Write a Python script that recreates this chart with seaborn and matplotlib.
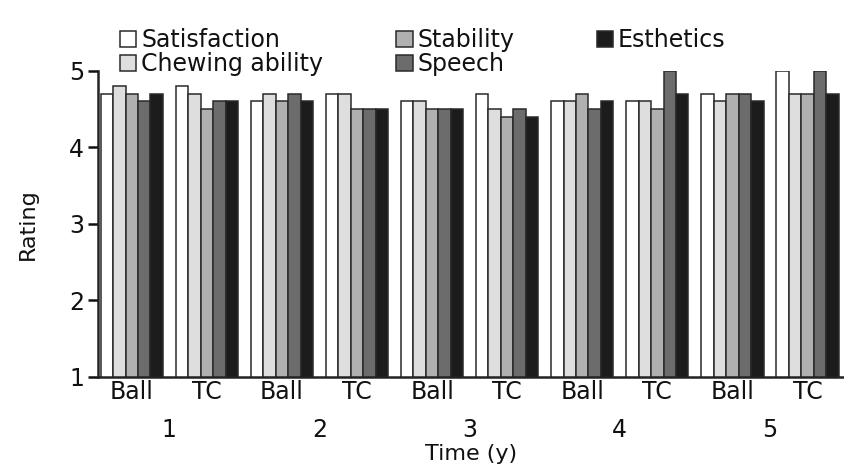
import matplotlib
matplotlib.use("Agg")
import matplotlib.pyplot as plt
import seaborn as sns
import pandas as pd
import matplotlib.transforms as mtransforms

# values
years = ["1", "2", "3", "4", "5"]
groups = ["Ball", "TC"]
measures = ["Satisfaction", "Chewing ability", "Stability", "Speech", "Esthetics"]

# order: Ball1, TC1, Ball2, TC2, ... Ball5, TC5
satisfaction = [4.7, 4.8, 4.6, 4.7, 4.6, 4.7, 4.6, 4.6, 4.7, 5.0]
chewing = [4.8, 4.7, 4.7, 4.7, 4.6, 4.5, 4.6, 4.6, 4.6, 4.7]
stability = [4.7, 4.5, 4.6, 4.5, 4.5, 4.4, 4.7, 4.5, 4.7, 4.7]
speech = [4.6, 4.6, 4.7, 4.5, 4.5, 4.5, 4.5, 5.0, 4.7, 5.0]
esthetics = [4.7, 4.6, 4.6, 4.5, 4.5, 4.4, 4.6, 4.7, 4.6, 4.7]

colors = ["#ffffff", "#dedede", "#b0b0b0", "#6c6c6c", "#1c1c1c"]

slots = [f"{g} {y}" for y in years for g in groups]
rows = []
for name, vals in zip(measures, [satisfaction, chewing, stability, speech, esthetics]):
    for s, v in zip(slots, vals):
        rows.append({"slot": s, "measure": name, "rating": v})
df = pd.DataFrame(rows)

sns.set_style("ticks")
plt.rcParams["font.family"] = ["DejaVu Sans"]
plt.rcParams["text.color"] = "#111111"
plt.rcParams["axes.labelcolor"] = "#111111"
plt.rcParams["xtick.color"] = "#111111"
plt.rcParams["ytick.color"] = "#111111"

fs = 17

fig = plt.figure(figsize=(8.45, 4.66), dpi=100)
ax = fig.add_axes([0.116, 0.191, 0.884, 0.657])

sns.barplot(data=df, x="slot", y="rating", hue="measure", order=slots,
            hue_order=measures, palette=colors, saturation=1, width=0.83,
            edgecolor="#2a2a2a", linewidth=1.1, errorbar=None, ax=ax)

ax.set_ylim(1, 5)
ax.set_yticks([1, 2, 3, 4, 5])
ax.set_xlim(-0.45, 9.5)
ax.set_xticks(range(len(slots)))
ax.set_xticklabels([s.split()[0] for s in slots])
ax.tick_params(axis="x", length=0, pad=2, labelsize=fs)
ax.tick_params(axis="y", length=7, width=1.8, labelsize=fs, pad=3)
for side in ["left", "bottom"]:
    ax.spines[side].set_linewidth(1.8)
    ax.spines[side].set_color("#222222")
sns.despine(ax=ax)

ax.set_ylabel("Rating", fontsize=fs - 1, labelpad=22)
ax.set_xlabel("Time (y)", fontsize=fs - 1, labelpad=29)

trans = mtransforms.blended_transform_factory(ax.transData, ax.transAxes)
for i, y in enumerate(years):
    ax.text(2 * i + 0.5, -0.172, y, transform=trans, ha="center", va="center", fontsize=fs)

# legend: three columns placed separately to match the reference spacing
handles, labels = ax.get_legend_handles_labels()
ax.legend_.remove()
cols = [[0, 1], [2, 3], [4]]
xs = [0.128, 0.455, 0.692]
for idx, x in zip(cols, xs):
    leg = fig.legend([handles[i] for i in idx], [labels[i] for i in idx],
                     loc="upper left", bbox_to_anchor=(x, 0.965), frameon=False,
                     fontsize=fs, handlelength=0.7, handleheight=0.7,
                     handletextpad=0.2, labelspacing=0.0, borderpad=0)

fig.savefig("out.png", dpi=100)
